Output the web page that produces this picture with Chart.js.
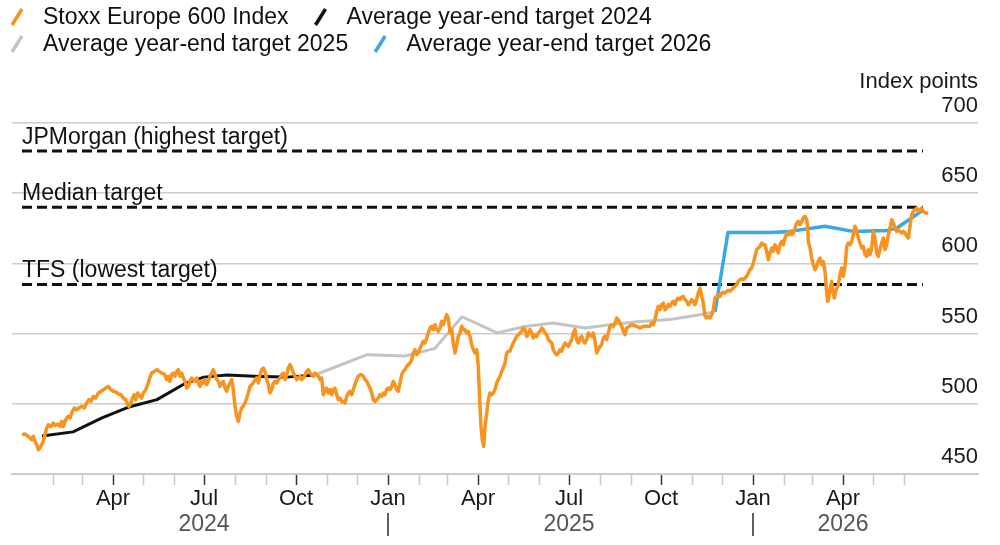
<!DOCTYPE html>
<html><head><meta charset="utf-8">
<script src="https://cdn.jsdelivr.net/npm/chart.js@4.4.1/dist/chart.umd.min.js"></script>
<style>html,body{margin:0;padding:0;background:#fff}#wrap{width:1000px;height:545px}</style>
</head><body><div id="wrap"><canvas id="c" width="1000" height="545"></canvas></div>
<script>
// ---- data (x = days since 2024-01-01, y = index points) ----
const DAY0 = Date.UTC(2024, 0, 1);

const stoxxSeries = [
 [0,478.0],[3,478.5],[6.3,476.8],[9.7,474.4],[11.3,476.8],[13,473.2],[14.7,470.9],[16.3,467.3],[18,468.5],[19.7,470.9],
 [21.3,473.2],[23,478.0],[24.7,482.7],[26.3,485.1],[29,483.9],[31.3,486.3],[33,484.6],[35.7,485.6],[38,483.9],[39.7,487.5],
 [41.3,483.9],[43,487.5],[44.7,489.9],[46.3,491.1],[48,489.9],[49.7,493.4],[52.3,497.0],[54.7,495.8],[57,497.0],[59.7,498.2],
 [62.3,497.0],[64.7,500.6],[67,503.0],[69,501.8],[71.3,505.3],[73.7,504.1],[76.3,507.7],[79,508.9],[81.3,510.0],[83.7,511.2],
 [86.3,512.4],[89,510.0],[91.3,508.9],[93.7,508.4],[96.3,507.0],[99,506.5],[101.3,504.1],[103.7,502.9],[105.7,499.4],[107,498.2],
 [109,500.6],[110.3,504.1],[112.3,506.5],[113.7,502.9],[115.7,507.7],[118,505.3],[119.7,504.1],[121.3,507.7],[123.7,510.0],[125.7,513.6],
 [127.7,518.4],[129.7,521.9],[132.3,523.1],[135,524.3],[137,523.1],[139.7,521.9],[142.3,521.2],
 [144.7,517.2],[146.3,519.6],[148,516.0],[149.7,520.8],[151.3,521.9],[153,519.6],[154.7,523.1],[156.3,524.3],[158,519.6],[159.7,521.9],
 [161.3,518.4],[163,516.0],[164.7,511.2],[166.3,512.4],[168,516.0],[169.7,518.4],[171.3,517.2],[173,516.0],[174.7,518.4],[176.3,514.8],
 [178,512.4],[179.7,516.0],[181.3,514.8],[183,517.2],[184.7,513.6],[186.3,516.0],[188,519.6],[189.7,521.9],[191.3,524.3],[193,520.7],
 [194.7,517.2],[196.3,516.0],[198,512.4],[199.7,514.8],[201.3,516.0],[203,511.2],[204.7,508.9],[206.3,512.4],[208,514.8],[209.7,517.2],
 [211.3,510.0],[213,498.2],[214.7,491.1],[216.3,487.5],[218,493.4],[219.7,497.0],[221.3,498.2],[223,500.6],[224.7,504.1],[226.3,507.7],
 [228,512.4],[229.7,513.6],[231.3,514.8],[233,517.2],[234.7,518.4],[236.3,514.8],[238,520.7],[239.7,524.3],[241.3,525.5],[243,523.1],
 [244.7,517.2],[246.3,513.6],[248,507.7],[249.7,510.0],[251.3,514.8],[253,516.0],[254.7,514.8],[256.3,517.2],[258,518.4],[259.7,520.7],
 [261.3,521.9],[263,517.2],[264.7,520.7],[266.3,525.5],[268,527.9],[269.7,525.5],[271.3,521.9],[273,519.6],[274.7,517.2],[276.3,518.4],
 [278,519.6],[279.7,517.2],[281.3,518.4],[283,520.7],[284.7,523.1],[286.3,524.3],[288,521.9],[289.7,520.7],[291.3,519.6],[293,521.9],
 [294.7,520.7],[296.3,519.6],[298,517.2],[299.7,518.4],
 [301.3,506.5],[303,510.1],[304.7,511.2],[306.3,507.7],[308,510.1],[309.7,506.5],[311.3,510.1],[313,511.2],[314.7,506.5],[316.3,502.9],
 [318,504.1],[319.7,501.7],[321.3,501.7],[323,500.6],[324.7,505.3],[326.3,507.7],[328,508.9],[329.7,506.5],[331.3,510.1],[333,513.6],
 [334.7,517.2],[336.3,519.6],[338,520.7],[339.7,520.7],[341.3,519.6],[343,517.2],[344.7,516.0],[346.3,513.6],[348,511.2],[349.7,507.7],
 [351.3,502.9],[353,501.7],[354.7,502.9],[356.3,504.1],[358,506.5],[359.7,505.3],[361.3,507.7],[363,506.5],[364.7,510.1],[366.3,511.2],
 [368,510.1],[369.7,512.4],[371.3,516.0],[373,513.6],[374.7,510.1],[376.3,508.9],[378,514.8],[379.7,520.7],[381.3,523.1],[383,524.3],
 [384.7,526.7],[386.3,527.9],[388,529.0],[389.7,531.4],[391.3,536.2],[393,538.5],[394.7,535.0],[396.3,536.2],[398,539.7],[399.7,542.1],
 [401.3,544.5],[403,543.3],[404.7,546.9],[406.3,550.4],[408,554.0],[409.7,555.2],[411.3,552.8],[413,556.3],[414.7,552.8],[416.3,551.6],
 [418,554.0],[419.7,558.7],[421.3,556.3],[423,559.9],[424.7,563.5],[426.3,561.1],[428,550.4],[429.7,552.8],[431.3,543.3],[433,536.2],
 [434.7,542.1],[436.3,548.0],[438,550.4],[439.7,555.2],[441.3,552.8],
 [443,552.8],[444.7,550.4],[446.3,551.6],[448,548.0],[449.7,542.1],[451.3,538.5],[453,536.2],[454.7,538.5],[456.3,526.7],[457,514.8],
 [458,498.2],[459,483.9],[460.3,474.4],[461.7,469.7],[463,483.9],[464.7,493.4],[466.3,502.9],[468,507.7],[469.7,506.5],[471.3,507.7],
 [473,510.1],[474.7,514.8],[476.3,517.2],[478,519.6],[479.7,523.1],[481.3,525.5],[483,529.0],[484.7,536.2],[486.3,537.4],[488,537.4],
 [489.7,540.9],[491.3,543.3],[493,545.7],[494.7,548.0],[496.3,549.2],[498,550.4],[499.7,551.6],[501.3,554.0],[503,552.8],[504.7,548.0],
 [506.3,549.2],[508,552.8],[509.7,550.4],[511.3,546.9],[513,549.2],[514.7,548.0],[516.3,550.4],[518,551.6],[519.7,554.0],[521.3,552.8],
 [523,550.4],[524.7,549.2],[526.3,545.7],[528,544.5],[529.7,543.3],[531.3,538.5],[533,536.2],[534.7,535.0],[536.3,536.2],[538,538.5],
 [539.7,537.4],[541.3,540.9],[543,543.3],[544.7,542.1],[546.3,540.9],[548,543.3],[549.7,545.7],[551.3,550.4],[553,552.8],[554.7,545.7],
 [556.3,543.3],[558,546.9],[559.7,548.0],[561.3,544.5],[563,543.3],[564.7,545.7],[566.3,550.4],[568,549.2],[569.7,548.0],[571.3,550.4],
 [573,544.5],[574.7,536.2],[576.3,538.5],[578,540.9],[579.7,542.1],[581.3,546.9],[583,548.0],[584.7,545.7],[586.3,550.4],[588,555.2],
 [589.7,556.3],[591.3,555.2],[593,557.5],[594.7,561.1],[596.3,559.9],[598,557.5],[599.7,555.2],[601.3,551.6],[603,549.2],
 [604.7,554.0],[609.7,556.3],[614.7,555.2],[618,554.0],[621.3,555.2],[624.7,555.2],[628,555.2],[629.7,557.5],[631.3,556.3],[633,559.9],
 [634.7,565.8],[636.3,569.4],[638,567.0],[639.7,570.6],[641.3,571.8],[643,567.0],[644.7,568.2],[646.3,570.6],[648,569.4],[649.7,571.8],
 [651.3,573.0],[653,570.6],[654.7,574.2],[656.3,575.3],[658,574.2],[659.7,576.0],[661.3,576.5],[663,574.2],[664.7,573.0],[666.3,570.6],
 [668,571.8],[669.7,574.2],[671.3,573.0],[673,570.6],[674.7,574.2],[676.3,578.9],[678,582.5],[679.7,576.5],[681.3,571.8],[683,562.3],
 [684.7,561.1],[686.3,562.3],[688,561.1],[689.7,563.5],[691.3,567.0],[693,575.3],[694.7,576.5],[696.3,577.7],[698,576.5],[699.7,578.9],
 [701.3,579.4],[703,578.9],[704.7,580.1],[706.3,580.8],[708,580.1],[709.7,581.3],[711.3,582.5],[713,583.7],[714.7,584.8],[716.3,587.2],
 [718,588.4],[719.7,588.9],[721.3,588.4],[723,589.6],[724.7,590.8],[726.3,593.1],[728,595.5],[729.7,596.7],[731.3,600.3],[733,605.0],
 [734.7,609.8],[736.3,610.9],[738,612.1],[739.7,614.5],[741.3,613.3],
 [743,613.3],[744.7,608.6],[746.3,602.6],[748,607.4],[749.7,611.0],[751.3,608.6],[753,613.3],[754.7,611.0],[756.3,607.4],[758,613.3],
 [759.7,615.7],[761.3,613.3],[763,618.1],[764.7,621.6],[766.3,620.4],[768,622.8],[769.7,620.4],[771.3,621.6],[773,625.2],[774.7,628.8],
 [776.3,629.9],[778,627.6],[779.7,629.9],[781.3,632.3],[783,633.5],[784.7,631.1],[785.7,625.2],[786.3,615.7],[788,611.0],[789.7,603.8],
 [791.3,599.1],[793,595.5],[794.7,597.9],[796.3,601.5],[798,603.8],[799.7,599.1],[801.3,601.5],[803,594.3],[804,584.8],[805,577.7],
 [805.7,573.0],[807,576.5],[808.3,582.5],[809.7,587.2],[811,580.1],[812.3,575.3],[813.7,580.1],[815,582.5],[816.3,584.8],[818,591.9],
 [819.7,596.7],[821.3,590.8],[823,597.9],[824.7,612.1],[826.3,614.5],[828,613.3],[829.7,615.7],[831.3,620.4],[833,626.4],[834.7,622.8],
 [836.3,618.1],[838,614.5],[839.7,611.0],[841.3,612.1],[843,606.2],[844.7,605.0],[846.3,609.8],[848,606.2],[849.7,611.0],[851.3,622.8],
 [853,618.1],[854.7,607.4],[856.3,605.0],[858,609.8],[859.7,614.5],[861.3,618.1],[863,609.8],[864.7,613.3],[866.3,620.4],[868,625.2],
 [869.7,631.1],[871.3,628.8],[873,625.2],[874.7,622.8],[876.3,624.0],[878,622.8],[879.7,621.6],[881.3,622.8],[883,621.6],[884.7,619.3],
 [886.3,618.1],[888,626.4],[889.7,634.7],[891.3,637.1],[893,638.2],[894.7,639.4],[896.3,637.1],[898,638.2],[899.7,639.4],[901.3,637.1],
 [903,635.9],[906.3,635.9]
];
const target2024Series = [[20,477],[51,480],[80,490],[106,497.5],[135,503],[163,514.5],[182,519],[205,520.5],[238,519.5],[265,519],[293,520.5]];
const target2025Series = [[293,520.5],[345,535],[383,534],[413,539.5],[440,562],[475,550.5],[503,555],[531,557.5],[563,554],[590,556.5],[615,558.5],[648,560],[678,563.5],[693,565.5]];
const target2026Series = [[693,565.5],[706,622],[748,622],[768,622.8],[803,626.4],[831,622.8],[865,623.5],[875,625.2],[900,637.5]];

const targetLevels = [680, 640, 585];
const targetNames = ['JPMorgan (highest target)', 'Median target', 'TFS (lowest target)'];
const targetSpanDays = [0, 901];

const seriesNames = ['Stoxx Europe 600 Index', 'Average year-end target 2024', 'Average year-end target 2025', 'Average year-end target 2026'];
const yTickValues = [450, 500, 550, 600, 650, 700];
const yAxisTitle = 'Index points';
const monthNames = ['Jan','Feb','Mar','Apr','May','Jun','Jul','Aug','Sep','Oct','Nov','Dec'];
const monthTickRange = [[2024, 2], [2026, 6]];   // first and last month tick (year, month)
const yearMarks = [[2024, 7, '2024'], [2025, 1, '|'], [2025, 7, '2025'], [2026, 1, '|'], [2026, 4, '2026']];
const xRangeDays = [-10, 956];

// ---- helpers ----
const dayOf = (y, m) => (Date.UTC(y, m - 1, 1) - DAY0) / 86400000;
const monthOfDay = d => new Date(DAY0 + d * 86400000).getUTCMonth();
const toPts = s => s.map(p => ({x: p[0], y: p[1]}));
const monthTicks = [];
for (let y = monthTickRange[0][0], m = monthTickRange[0][1]; y < monthTickRange[1][0] || (y === monthTickRange[1][0] && m <= monthTickRange[1][1]); ) {
  monthTicks.push(dayOf(y, m)); m++; if (m > 12) { m = 1; y++; }
}
const yearTicks = yearMarks.map(a => ({value: dayOf(a[0], a[1]), label: a[2]}));

const FONT = '"Liberation Sans", Arial, Helvetica, sans-serif';
Chart.defaults.font.family = FONT;
const COLORS = {stoxx: '#f7931e', t24: '#111111', t25: '#c4c4c4', t26: '#38a8e6', dash: '#111111'};

const dashSets = targetLevels.map((lvl, i) => ({
  label: targetNames[i],
  data: targetSpanDays.map(d => ({x: d, y: lvl})),
  borderColor: COLORS.dash, borderWidth: 3, borderDash: [10, 5], order: 10 + i
}));

const notesPlugin = {
  id: 'notes',
  afterDraw(chart) {
    const {ctx, scales: {x, y}, chartArea} = chart;
    ctx.save();
    ctx.fillStyle = '#111';
    ctx.font = '23px ' + FONT;
    ctx.textAlign = 'left'; ctx.textBaseline = 'alphabetic';
    targetLevels.forEach((lvl, i) => {
      ctx.fillText(targetNames[i], x.getPixelForValue(targetSpanDays[0]), y.getPixelForValue(lvl) - 7);
    });
    ctx.font = '22px ' + FONT; ctx.fillStyle = '#1a1a1a';
    ctx.textAlign = 'right'; ctx.textBaseline = 'middle';
    ctx.fillText(yAxisTitle, chartArea.right, y.getPixelForValue(yTickValues[yTickValues.length - 1]) - 41);
    // legend
    const colors = [COLORS.stoxx, COLORS.t24, COLORS.t25, COLORS.t26];
    ctx.font = '23px ' + FONT; ctx.textAlign = 'left'; ctx.textBaseline = 'middle';
    const rows = [[0, 1], [2, 3]];
    rows.forEach((row, r) => {
      const cy = 17 + r * 27;
      let mx = 17;
      row.forEach(idx => {
        ctx.strokeStyle = colors[idx]; ctx.lineWidth = 3.5; ctx.lineCap = 'butt';
        ctx.beginPath(); ctx.moveTo(mx - 5, cy + 8); ctx.lineTo(mx + 5, cy - 8); ctx.stroke();
        ctx.fillStyle = '#111';
        const tx = mx + 26;
        ctx.fillText(seriesNames[idx], tx, cy + 1);
        mx = tx + ctx.measureText(seriesNames[idx]).width + 32;
      });
    });
    ctx.restore();
  }
};

new Chart(document.getElementById('c'), {
  type: 'line',
  data: {
    datasets: [
      {label: seriesNames[0], data: toPts(stoxxSeries), borderColor: COLORS.stoxx, borderWidth: 3.5, order: 0},
      {label: seriesNames[1], data: toPts(target2024Series), borderColor: COLORS.t24, borderWidth: 3, order: 2},
      {label: seriesNames[2], data: toPts(target2025Series), borderColor: COLORS.t25, borderWidth: 3, order: 3},
      {label: seriesNames[3], data: toPts(target2026Series), borderColor: COLORS.t26, borderWidth: 3.5, order: 1},
      ...dashSets
    ]
  },
  options: {
    responsive: false, animation: false, devicePixelRatio: 1,
    layout: {padding: {left: 12, right: 22, top: 123, bottom: 0}},
    elements: {point: {radius: 0, hoverRadius: 0}, line: {tension: 0, borderJoinStyle: 'round', fill: false}},
    plugins: {legend: {display: false}, tooltip: {enabled: false}},
    events: [],
    scales: {
      x: {
        type: 'linear', position: 'bottom', weight: 0, min: xRangeDays[0], max: xRangeDays[1],
        afterBuildTicks: s => { s.ticks = monthTicks.map(v => ({value: v})); },
        afterFit: s => { s.height = 36; },
        ticks: {autoSkip: false, maxRotation: 0, padding: 1, color: '#1a1a1a', font: {size: 22},
          callback: v => { const m = monthOfDay(v); return m % 3 === 0 ? monthNames[m] : ''; }},
        grid: {drawOnChartArea: false, drawTicks: true, tickLength: 11, tickWidth: 1.5,
          tickColor: c => (c.tick && monthOfDay(c.tick.value) % 3 === 0) ? '#333' : '#c8c8c8'},
        border: {display: true, color: '#cccccc', width: 2}
      },
      x2: {
        type: 'linear', position: 'bottom', weight: 1, min: xRangeDays[0], max: xRangeDays[1],
        afterBuildTicks: s => { s.ticks = yearTicks.map(t => ({value: t.value})); },
        afterFit: s => { s.height = 35; },
        ticks: {autoSkip: false, maxRotation: 0, padding: -7, color: '#555', font: {size: 23},
          callback: (v, i) => yearTicks[i].label},
        grid: {display: false}, border: {display: false}
      },
      y: {
        position: 'right', min: yTickValues[0], max: yTickValues[yTickValues.length - 1],
        afterBuildTicks: s => { s.ticks = yTickValues.map(v => ({value: v})); },
        ticks: {mirror: true, padding: 0, labelOffset: -17, color: '#1a1a1a', font: {size: 22}},
        grid: {color: '#cccccc', lineWidth: 1.5, drawTicks: false},
        border: {display: false}
      }
    }
  },
  plugins: [notesPlugin]
});
</script></body></html>
